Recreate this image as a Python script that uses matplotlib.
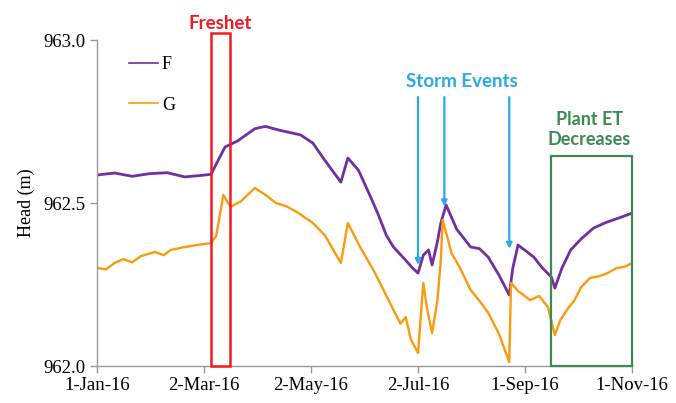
import matplotlib
matplotlib.use("Agg")
import matplotlib.pyplot as plt
import matplotlib.dates as mdates
import numpy as np
import pandas as pd
from matplotlib.patches import Rectangle

# ---- data (days since 1-Jan-2016, head in m) ----
f_days = [0, 10, 20, 30, 40, 50, 60, 65, 68, 73, 80, 90, 96, 105, 116, 123, 130, 139, 143, 149,
          155, 160, 165, 169, 175, 180, 183, 186, 189, 191, 194, 196, 199, 205, 213, 218, 223,
          229, 235, 237, 240, 244, 249, 254, 259, 261, 265, 270, 276, 283, 290, 298, 305]
f_vals = [962.586, 962.592, 962.582, 962.590, 962.593, 962.580, 962.585, 962.588, 962.620, 962.672,
          962.690, 962.728, 962.735, 962.722, 962.709, 962.684, 962.630, 962.564, 962.638, 962.601,
          962.530, 962.469, 962.400, 962.365, 962.330, 962.300, 962.285, 962.340, 962.356, 962.310,
          962.380, 962.439, 962.494, 962.420, 962.365, 962.360, 962.334, 962.280, 962.218, 962.300,
          962.371, 962.355, 962.334, 962.300, 962.273, 962.239, 962.300, 962.356, 962.390, 962.423,
          962.440, 962.455, 962.469]

g_days = [0, 5, 10, 15, 20, 25, 33, 38, 42, 50, 58, 65, 68, 72, 76, 82, 90, 96, 102, 108, 114,
          123, 130, 139, 143, 150, 158, 165, 169, 173, 176, 179, 183, 186, 188, 191, 194, 196, 197,
          200, 202, 207, 213, 218, 223, 229, 235, 236, 240, 247, 252, 257, 261, 264, 269, 272, 276,
          281, 286, 291, 296, 301, 305]
g_vals = [962.301, 962.296, 962.316, 962.328, 962.318, 962.337, 962.350, 962.340, 962.356, 962.365,
          962.372, 962.377, 962.400, 962.525, 962.488, 962.505, 962.546, 962.525, 962.500, 962.490,
          962.472, 962.439, 962.400, 962.316, 962.439, 962.365, 962.290, 962.215, 962.172, 962.130,
          962.150, 962.080, 962.040, 962.255, 962.180, 962.101, 962.200, 962.325, 962.448, 962.390,
          962.347, 962.300, 962.233, 962.200, 962.163, 962.100, 962.012, 962.255, 962.230, 962.202,
          962.215, 962.181, 962.095, 962.140, 962.181, 962.200, 962.242, 962.270, 962.275, 962.285,
          962.300, 962.305, 962.316]

series_names = ["F", "G"]
tick_dates = ["2016-01-01", "2016-03-02", "2016-05-02", "2016-07-02", "2016-09-01", "2016-11-01"]
tick_labels = ["1-Jan-16", "2-Mar-16", "2-May-16", "2-Jul-16", "1-Sep-16", "1-Nov-16"]
y_ticks = [962.0, 962.5, 963.0]

start = pd.Timestamp("2016-01-01")
f_x = start + pd.to_timedelta(f_days, unit="D")
g_x = start + pd.to_timedelta(g_days, unit="D")

purple = "#7030A0"
orange = "#F99B0C"
red = "#EE1C25"
blue = "#29ABE2"
green = "#3C8A4F"

fig = plt.figure(figsize=(6.76, 4.03), dpi=100)
ax = fig.add_axes([0.1435, 0.0918, 0.7915, 0.8089])

ax.plot(f_x, f_vals, color=purple, lw=2.0)
ax.plot(g_x, g_vals, color=orange, lw=1.7)

ax.set_xlim(pd.Timestamp(tick_dates[0]), pd.Timestamp(tick_dates[-1]))
ax.set_ylim(962.0, 963.0)
ax.set_xticks([pd.Timestamp(d) for d in tick_dates])
ax.set_xticklabels(tick_labels, family="Liberation Serif", fontsize=13.5)
ax.set_yticks(y_ticks)
ax.set_yticklabels([f"{v:.1f}" for v in y_ticks], family="Liberation Serif", fontsize=13.5)
ax.set_ylabel("Head (m)", family="Liberation Serif", fontsize=13, labelpad=6)

for s in ["top", "right"]:
    ax.spines[s].set_visible(False)
for s in ["left", "bottom"]:
    ax.spines[s].set_color("#999999")
    ax.spines[s].set_linewidth(1.0)
ax.tick_params(axis="both", direction="out", length=5, color="#999999", width=1.0, pad=3)

# Legend (inside top-left)
leg = ax.legend(series_names, loc="upper left", bbox_to_anchor=(0.03, 1.0), frameon=False,
                prop={"family": "Liberation Serif", "size": 13}, handlelength=1.6,
                handletextpad=0.2, labelspacing=1.3)
for h in leg.get_lines():
    h.set_linewidth(1.2)

# Freshet box
fx0 = mdates.date2num(pd.Timestamp("2016-03-06"))
fx1 = mdates.date2num(pd.Timestamp("2016-03-17"))
ax.add_patch(Rectangle((fx0, 962.0), fx1 - fx0, 1.02, fill=False, edgecolor=red, lw=1.8,
                       clip_on=False, zorder=5))
ax.text((fx0 + fx1) / 2, 963.052, "Freshet", color=red, fontsize=13.5, family="Lato",
        weight="bold", ha="center", va="center")

# Plant ET box
px0 = mdates.date2num(pd.Timestamp("2016-09-16"))
px1 = mdates.date2num(pd.Timestamp("2016-11-01"))
ax.add_patch(Rectangle((px0, 962.0), px1 - px0, 0.644, fill=False, edgecolor=green, lw=1.6,
                       clip_on=False, zorder=5))
ax.text((px0 + px1) / 2 - 1.5, 962.726, "Plant ET\nDecreases", color=green, fontsize=13,
        family="Lato", weight="bold", ha="center", va="center", linespacing=1.25)

# Storm events
ax.text(mdates.date2num(pd.Timestamp("2016-07-27")), 962.873, "Storm Events", color=blue,
        fontsize=13.5, family="Lato", weight="bold", ha="center", va="center")
storm_dates = ["2016-07-02", "2016-07-17", "2016-08-23"]
storm_heads = [962.31, 962.49, 962.36]
for d, h in zip(storm_dates, storm_heads):
    xd = mdates.date2num(pd.Timestamp(d))
    ax.annotate("", xy=(xd, h), xytext=(xd, 962.825),
                arrowprops=dict(arrowstyle="-|>", color=blue, lw=1.6, mutation_scale=8,
                                shrinkA=0, shrinkB=0), zorder=6)

fig.savefig("out.png", dpi=100)
